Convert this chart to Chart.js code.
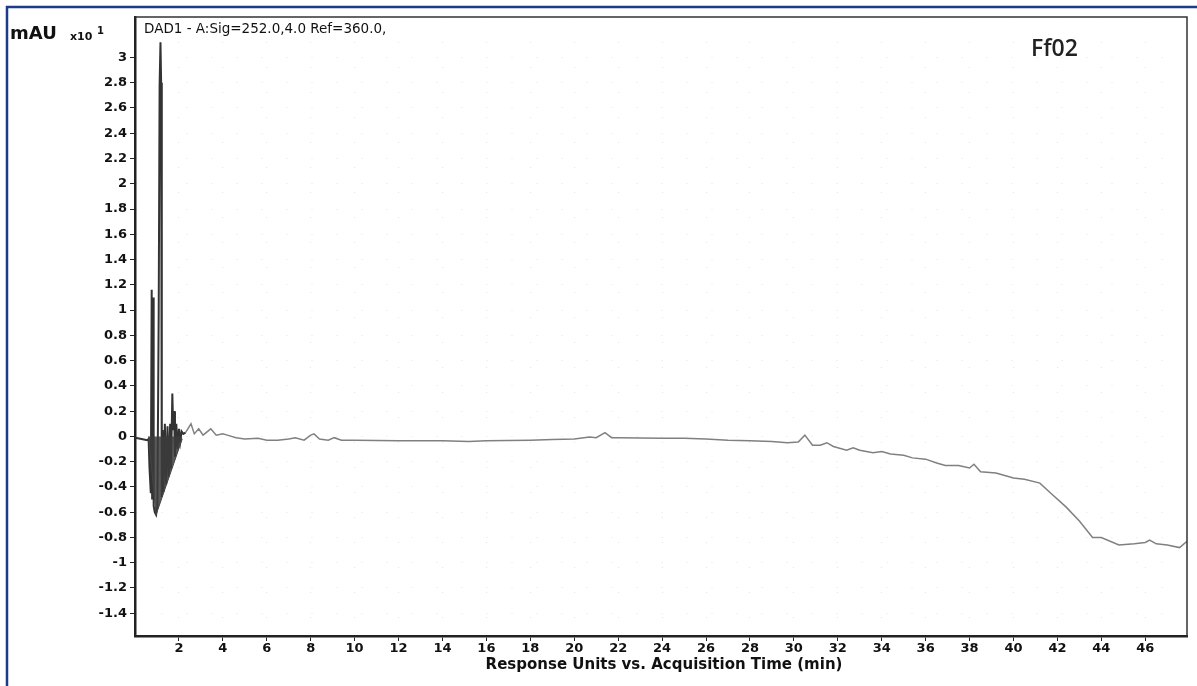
<!DOCTYPE html>
<html>
<head>
<meta charset="utf-8">
<script src="https://cdn.jsdelivr.net/npm/chart.js@4/dist/chart.umd.min.js"></script>
<style>
  body { margin: 0; background: #fff; }
  canvas { display: block; }
</style>
</head>
<body>
<canvas id="chromatogram" width="1197" height="686"></canvas>
<script>
// Tick positions
const xTicks = [2, 4, 6, 8, 10, 12, 14, 16, 18, 20, 22, 24, 26, 28, 30, 32, 34, 36, 38, 40, 42, 44, 46];
const yTicks = [-1.4, -1.2, -1, -0.8, -0.6, -0.4, -0.2, 0, 0.2, 0.4, 0.6, 0.8, 1, 1.2, 1.4, 1.6, 1.8, 2, 2.2, 2.4, 2.6, 2.8, 3];

// Early dense region with the big peaks (min, mAU x10)
const spikeTimes = [0.00, 0.30, 0.55, 0.62, 0.66, 0.72, 0.76, 0.78, 0.82, 0.85, 0.90, 0.96, 1.02, 1.08, 1.12, 1.16, 1.19, 1.22, 1.26, 1.30, 1.36, 1.42, 1.48, 1.54, 1.60, 1.64, 1.70, 1.74, 1.78, 1.82, 1.88, 1.94, 2.00, 2.06, 2.12, 2.20, 2.30];
const spikeValues = [-0.01, -0.02, -0.03, -0.02, -0.25, -0.45, 1.16, -0.50, 1.10, -0.55, -0.60, -0.62, -0.55, 1.00, 2.77, 3.12, 2.80, -0.48, 0.05, -0.44, 0.10, -0.38, 0.08, -0.32, 0.10, -0.26, 0.34, 0.05, 0.20, -0.16, 0.10, -0.10, 0.06, -0.04, 0.04, 0.02, 0.03];

// Outline of the negative dip under the peaks
const dipTimes = [0.62, 0.96, 2.15];
const dipValues = [0, -0.62, -0.02];

// Rest of the trace
const traceTimes = [2.30, 2.55, 2.70, 2.90, 3.10, 3.45, 3.70, 4.00, 4.20, 4.60, 5.00, 5.60, 6.00, 6.50, 7.00, 7.30, 7.70, 8.00, 8.15, 8.40, 8.80, 9.07, 9.40, 10, 12, 14, 15.2, 16, 18, 19, 20, 20.7, 21.0, 21.4, 21.7, 22, 23, 24, 25, 26, 27, 28, 29, 29.7, 30.2, 30.5, 30.85, 31.2, 31.5, 31.8, 32.4, 32.7, 33.0, 33.6, 34.0, 34.4, 35.0, 35.4, 36.0, 36.5, 36.9, 37.5, 38.0, 38.2, 38.5, 39.2, 40.0, 40.5, 41.2, 41.7, 42.4, 43.0, 43.6, 44.0, 44.8, 45.5, 46.0, 46.2, 46.5, 47.0, 47.56, 47.9];
const traceValues = [0.03, 0.10, 0.02, 0.06, 0.01, 0.06, 0.01, 0.02, 0.01, -0.01, -0.02, -0.015, -0.03, -0.03, -0.02, -0.01, -0.03, 0.01, 0.02, -0.02, -0.03, -0.01, -0.03, -0.03, -0.035, -0.035, -0.04, -0.035, -0.03, -0.025, -0.02, -0.005, -0.01, 0.03, -0.01, -0.01, -0.012, -0.015, -0.015, -0.02, -0.03, -0.035, -0.04, -0.05, -0.045, 0.01, -0.07, -0.07, -0.05, -0.08, -0.11, -0.09, -0.11, -0.13, -0.12, -0.14, -0.15, -0.17, -0.18, -0.21, -0.23, -0.23, -0.25, -0.22, -0.28, -0.29, -0.33, -0.34, -0.37, -0.45, -0.56, -0.67, -0.80, -0.80, -0.86, -0.85, -0.84, -0.82, -0.85, -0.86, -0.88, -0.83];

function toPoints(xs, ys) {
  return xs.map((x, i) => ({ x: x, y: ys[i] }));
}

// Page frame, plot box and the text labels
const decorations = {
  id: 'decorations',
  beforeDraw(chart) {
    const c = chart.ctx;
    c.save();
    c.fillStyle = '#fff';
    c.fillRect(0, 0, chart.width, chart.height);
    c.strokeStyle = '#1d3c86';
    c.lineWidth = 2.5;
    c.beginPath();
    c.moveTo(7, chart.height);
    c.lineTo(7, 7);
    c.lineTo(chart.width, 7);
    c.stroke();
    c.restore();
  },
  afterDraw(chart) {
    const c = chart.ctx;
    const a = chart.chartArea;
    c.save();
    c.strokeStyle = '#333';
    c.lineWidth = 1.5;
    c.beginPath();
    c.moveTo(a.left, a.top);
    c.lineTo(a.right, a.top);
    c.lineTo(a.right, a.bottom);
    c.stroke();

    c.fillStyle = '#111';
    c.textBaseline = 'alphabetic';
    c.textAlign = 'left';
    c.font = 'bold 18px "DejaVu Sans"';
    c.fillText('mAU', 10, 39);
    c.font = 'bold 11px "DejaVu Sans"';
    c.fillText('x10', 70, 40);
    c.font = 'bold 10px "DejaVu Sans"';
    c.fillText('1', 97, 34);
    c.font = '13.5px "DejaVu Sans"';
    c.fillText('DAD1 - A:Sig=252.0,4.0 Ref=360.0,', 144, 33);
    c.font = '600 23px "Open Sans"';
    c.fillStyle = '#222';
    c.fillText('Ff02', 1031, 56);
    c.fillStyle = '#111';
    c.textAlign = 'center';
    c.font = 'bold 15px "DejaVu Sans"';
    c.fillText('Response Units vs. Acquisition Time (min)', 664, 669);
    c.restore();
  }
};

const tickFont = { family: 'DejaVu Sans', size: 13, weight: 'bold' };

new Chart(document.getElementById('chromatogram'), {
  type: 'line',
  data: {
    datasets: [
      {
        data: toPoints(dipTimes, dipValues),
        borderColor: '#444',
        borderWidth: 1,
        backgroundColor: 'rgba(60,60,60,0.85)',
        fill: 'origin',
        pointRadius: 0
      },
      {
        data: toPoints(spikeTimes, spikeValues),
        borderColor: '#333',
        borderWidth: 2,
        fill: false,
        pointRadius: 0
      },
      {
        data: toPoints(traceTimes, traceValues),
        borderColor: '#808080',
        borderWidth: 1.5,
        fill: false,
        pointRadius: 0
      }
    ]
  },
  options: {
    responsive: false,
    animation: false,
    layout: { padding: { top: 17, right: 10, left: 0, bottom: 0 } },
    plugins: {
      legend: { display: false },
      tooltip: { enabled: false }
    },
    scales: {
      x: {
        type: 'linear',
        min: 0,
        max: 47.9,
        afterBuildTicks(scale) { scale.ticks = xTicks.map(v => ({ value: v })); },
        afterFit(scale) { scale.height = 50; },
        ticks: { color: '#111', font: tickFont, padding: 0, maxRotation: 0, autoSkip: false },
        grid: { color: 'rgba(0,0,0,0.10)', tickColor: '#222', tickLength: 5, tickWidth: 1 },
        border: { color: '#222', width: 2.5, dash: [1, 24] }
      },
      y: {
        type: 'linear',
        min: -1.58,
        max: 3.32,
        afterBuildTicks(scale) { scale.ticks = yTicks.map(v => ({ value: v })); },
        afterFit(scale) { scale.width = 135; },
        ticks: {
          color: '#111',
          font: tickFont,
          padding: 3,
          callback: v => String(Math.round(v * 10) / 10)
        },
        grid: { color: 'rgba(0,0,0,0.10)', tickColor: '#222', tickLength: 5, tickWidth: 1 },
        border: { color: '#222', width: 2.5, dash: [1, 24] }
      }
    }
  },
  plugins: [decorations]
});
</script>
</body>
</html>
